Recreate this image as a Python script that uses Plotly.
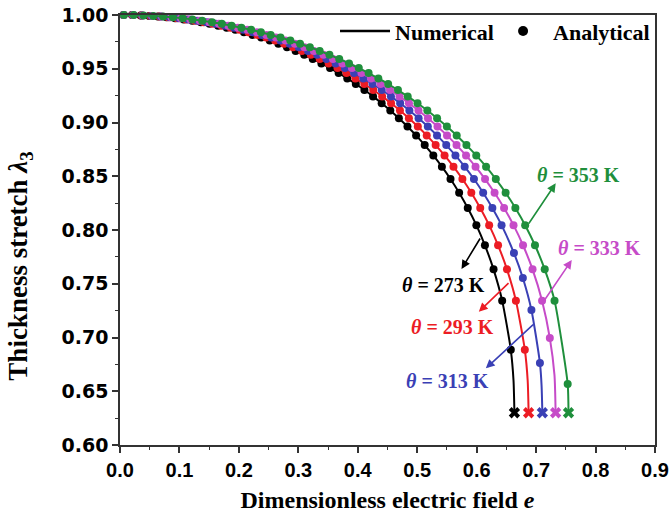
import plotly.graph_objects as go

# Analytical points (markers): thickness stretch, common part for all temperatures
lam3_common = [1.0000, 0.9999, 0.9996, 0.9991, 0.9985, 0.9978, 0.9969, 0.9959, 0.9947, 0.9933,
               0.9918, 0.9901, 0.9882, 0.9862, 0.9839, 0.9815, 0.9790, 0.9762, 0.9732, 0.9700,
               0.9666, 0.9630, 0.9591, 0.9550, 0.9506, 0.9460, 0.9410, 0.9358, 0.9302, 0.9243,
               0.9179, 0.9112, 0.9040, 0.8963, 0.8880, 0.8790, 0.8694, 0.8589, 0.8474, 0.8347,
               0.8205, 0.8045]
# last analytical points of each curve
lam3_last_273 = [0.7858, 0.7634, 0.7343, 0.6886]
lam3_last_293 = [0.7858, 0.7634, 0.7343, 0.6886]
lam3_last_313 = [0.7786, 0.7553, 0.7256, 0.6763]
lam3_last_333 = [0.7858, 0.7634, 0.7343, 0.6995]
lam3_last_353 = [0.7858, 0.7634, 0.7343, 0.6567]

e_273 = [0.0058, 0.0203, 0.0348, 0.0492, 0.0637, 0.0782, 0.0927, 0.1071, 0.1216, 0.1361,
         0.1506, 0.1651, 0.1795, 0.1940, 0.2085, 0.2230, 0.2375, 0.2519, 0.2664, 0.2809,
         0.2954, 0.3099, 0.3243, 0.3388, 0.3533, 0.3678, 0.3823, 0.3967, 0.4112, 0.4257,
         0.4402, 0.4547, 0.4691, 0.4836, 0.4981, 0.5126, 0.5271, 0.5415, 0.5560, 0.5705,
         0.5850, 0.5995, 0.6139, 0.6284, 0.6429, 0.6574]
e_293 = [0.006, 0.021, 0.036, 0.051, 0.066, 0.081, 0.096, 0.111, 0.126, 0.141,
         0.156, 0.171, 0.186, 0.201, 0.216, 0.231, 0.246, 0.261, 0.276, 0.291,
         0.306, 0.321, 0.336, 0.351, 0.366, 0.381, 0.396, 0.411, 0.426, 0.441,
         0.456, 0.471, 0.486, 0.501, 0.516, 0.531, 0.546, 0.561, 0.576, 0.591,
         0.606, 0.621, 0.636, 0.651, 0.666, 0.681]
e_313 = [0.0062, 0.0217, 0.0372, 0.0527, 0.0682, 0.0837, 0.0992, 0.1147, 0.1302, 0.1457,
         0.1612, 0.1767, 0.1922, 0.2078, 0.2233, 0.2388, 0.2543, 0.2698, 0.2853, 0.3008,
         0.3163, 0.3318, 0.3473, 0.3628, 0.3783, 0.3938, 0.4093, 0.4248, 0.4403, 0.4558,
         0.4713, 0.4868, 0.5023, 0.5178, 0.5333, 0.5488, 0.5643, 0.5798, 0.5954, 0.6109,
         0.6264, 0.6419, 0.6627, 0.6777, 0.6921, 0.7064]
e_333 = [0.0064, 0.0224, 0.0384, 0.0544, 0.0704, 0.0864, 0.1023, 0.1183, 0.1343, 0.1503,
         0.1663, 0.1823, 0.1983, 0.2143, 0.2303, 0.2463, 0.2623, 0.2783, 0.2942, 0.3102,
         0.3262, 0.3422, 0.3582, 0.3742, 0.3902, 0.4062, 0.4222, 0.4382, 0.4542, 0.4702,
         0.4861, 0.5021, 0.5181, 0.5341, 0.5501, 0.5661, 0.5821, 0.5981, 0.6141, 0.6301,
         0.6461, 0.6620, 0.6780, 0.6940, 0.7100, 0.7231]
e_353 = [0.0066, 0.0230, 0.0395, 0.0560, 0.0724, 0.0889, 0.1054, 0.1218, 0.1383, 0.1548,
         0.1712, 0.1877, 0.2042, 0.2206, 0.2371, 0.2535, 0.2700, 0.2865, 0.3029, 0.3194,
         0.3359, 0.3523, 0.3688, 0.3853, 0.4017, 0.4182, 0.4346, 0.4511, 0.4676, 0.4840,
         0.5005, 0.5170, 0.5334, 0.5499, 0.5664, 0.5828, 0.5993, 0.6158, 0.6322, 0.6487,
         0.6651, 0.6816, 0.6981, 0.7145, 0.7310, 0.7531]

# Numerical curve continues from the last analytical point down to the critical point
lam3_tail_273 = [0.66, 0.63]
lam3_tail_293 = [0.66, 0.63]
lam3_tail_313 = [0.655, 0.63]
lam3_tail_333 = [0.665, 0.63]
lam3_tail_353 = [0.63]
e_tail_273 = [0.6620, 0.6635]
e_tail_293 = [0.6858, 0.6874]
e_tail_313 = [0.7092, 0.7105]
e_tail_333 = [0.7309, 0.7328]
e_tail_353 = [0.7545]

temps = ["273", "293", "313", "333", "353"]
colors = {"273": "#000000", "293": "#ec1c24", "313": "#3a40b5", "333": "#c64bc8", "353": "#1f8f3c"}
e_pts = {"273": e_273, "293": e_293, "313": e_313, "333": e_333, "353": e_353}
lam3_last = {"273": lam3_last_273, "293": lam3_last_293, "313": lam3_last_313,
             "333": lam3_last_333, "353": lam3_last_353}
e_tail = {"273": e_tail_273, "293": e_tail_293, "313": e_tail_313, "333": e_tail_333, "353": e_tail_353}
lam3_tail = {"273": lam3_tail_273, "293": lam3_tail_293, "313": lam3_tail_313,
             "333": lam3_tail_333, "353": lam3_tail_353}

# annotation: (arrow tail on curve), (arrow head), (label centre)
ann = {
    "353": ((0.686, 0.8047), (0.733, 0.8434), (0.772, 0.8512)),
    "333": ((0.712, 0.733), (0.760, 0.7721), (0.806, 0.7833)),
    "273": ((0.6073, 0.7935), (0.5745, 0.7637), (0.545, 0.7488)),
    "293": ((0.6561, 0.7519), (0.6036, 0.724), (0.5594, 0.7098)),
    "313": ((0.6975, 0.7132), (0.6154, 0.6713), (0.551, 0.6595)),
}

serif = "Liberation Serif, Times New Roman, serif"
sans = "Liberation Sans, Arial, sans-serif"
wide_sans = "DejaVu Sans, Arial, sans-serif"

fig = go.Figure()
for t in temps:
    c = colors[t]
    y_pts = lam3_common + lam3_last[t]
    fig.add_trace(go.Scatter(x=e_pts[t] + e_tail[t], y=y_pts + lam3_tail[t], mode="lines",
                             line=dict(color=c, width=2, shape="spline", smoothing=0.6),
                             showlegend=False, hoverinfo="skip"))
    fig.add_trace(go.Scatter(x=e_pts[t], y=y_pts, mode="markers",
                             marker=dict(color=c, size=8, symbol="circle"),
                             showlegend=False, cliponaxis=False))
    fig.add_trace(go.Scatter(x=[e_tail[t][-1]], y=[lam3_tail[t][-1]], mode="markers",
                             marker=dict(color=c, size=10, symbol="x"),
                             showlegend=False, cliponaxis=False))

# legend entries
fig.add_trace(go.Scatter(x=[None], y=[None], mode="lines", line=dict(color="black", width=2.5),
                         name="Numerical", legend="legend"))
fig.add_trace(go.Scatter(x=[None], y=[None], mode="markers", marker=dict(color="black", size=10),
                         name="Analytical", legend="legend2"))

annotations = []
for t in temps:
    c = colors[t]
    (tx, ty), (hx, hy), (lx, ly) = ann[t]
    annotations.append(dict(x=hx, y=hy, ax=tx, ay=ty, xref="x", yref="y", axref="x", ayref="y",
                            text="", showarrow=True, arrowhead=2, arrowsize=1.1, arrowwidth=1.6,
                            arrowcolor=c, standoff=0, startstandoff=0))
    annotations.append(dict(x=lx, y=ly, xref="x", yref="y", showarrow=False,
                            text="<b><i>θ</i> = " + t + " K</b>",
                            font=dict(family=serif, size=20, color=c)))

# y-axis title
annotations.append(dict(x=-0.187, y=0.417, xref="paper", yref="paper", showarrow=False,
                        textangle=-90, xanchor="center", yanchor="middle",
                        text="<b>Thickness stretch <i>λ</i><sub>3</sub></b>",
                        font=dict(family=serif, size=27, color="black")))

legend_font = dict(family=serif, size=22, color="black", weight="bold")
fig.update_layout(
    width=670, height=525,
    margin=dict(l=120, r=15, t=15, b=80, autoexpand=False),
    paper_bgcolor="white", plot_bgcolor="white",
    annotations=annotations,
    legend=dict(orientation="h", x=0.4019, xanchor="left", y=1.011, yanchor="top",
                bgcolor="rgba(0,0,0,0)", font=legend_font, itemwidth=50),
    legend2=dict(orientation="h", x=0.6973, xanchor="left", y=1.011, yanchor="top",
                 bgcolor="rgba(0,0,0,0)", font=legend_font, itemwidth=50),
    xaxis=dict(range=[0, 0.9], dtick=0.1, tick0=0, tickformat=".1f",
               ticks="outside", ticklen=6, tickwidth=1.5, tickcolor="#333",
               minor=dict(ticks="outside", ticklen=3.5, dtick=0.05, tickwidth=1.2, tickcolor="#333"),
               showline=True, linecolor="#333", linewidth=1.5, mirror=True, showgrid=False, zeroline=False,
               tickfont=dict(family=sans, size=20, color="black", weight="bold"),
               title=dict(text="<b>Dimensionless electric field <i>e</i></b>",
                          font=dict(family=serif, size=24, color="black"), standoff=11)),
    yaxis=dict(range=[0.6, 1.0], dtick=0.05, tick0=0.6, tickformat=".2f",
               ticks="outside", ticklen=6, tickwidth=1.5, tickcolor="#333",
               minor=dict(ticks="outside", ticklen=3.5, dtick=0.025, tickwidth=1.2, tickcolor="#333"),
               showline=True, linecolor="#333", linewidth=1.5, mirror=True, showgrid=False, zeroline=False,
               tickfont=dict(family=wide_sans, size=19, color="black", weight="bold")),
)

fig.write_html("out.html")
